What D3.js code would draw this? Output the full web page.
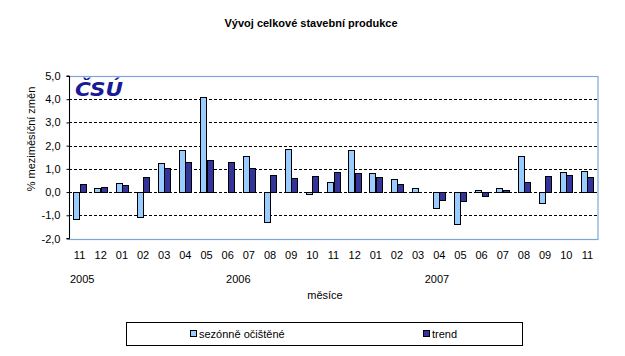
<!DOCTYPE html>
<html>
<head>
<meta charset="utf-8">
<script src="https://cdn.jsdelivr.net/npm/d3@7"></script>
<style>
  body { margin: 0; background: #fff; }
  svg { display: block; font-family: "Liberation Sans", Arial, sans-serif; }
</style>
</head>
<body>
<svg id="chart" width="625" height="356"></svg>
<script>
const months = ["11","12","01","02","03","04","05","06","07","08","09","10","11","12","01","02","03","04","05","06","07","08","09","10","11"];
const seasonal = [-1.18, 0.17, 0.39, -1.09, 1.25, 1.81, 4.09, 0.0, 1.55, -1.31, 1.85, -0.10, 0.43, 1.81, 0.82, 0.56, 0.17, -0.70, -1.39, 0.09, 0.17, 1.55, -0.49, 0.86, 0.91];
const trend = [0.34, 0.22, 0.30, 0.65, 1.03, 1.29, 1.38, 1.29, 1.03, 0.73, 0.60, 0.69, 0.86, 0.82, 0.65, 0.34, 0.0, -0.36, -0.40, -0.19, 0.09, 0.43, 0.69, 0.73, 0.65];
const seriesNames = ["sezónně očištěné", "trend"];
const seriesColors = ["#99ccff", "#333399"];
const yTicks = [5, 4, 3, 2, 1, 0, -1, -2];
const years = ["2005", "2006", "2007"];

const svg = d3.select("#chart");
const L = 69, R = 598, T = 76, B = 238.5;

const x = d3.scaleBand().domain(d3.range(months.length)).range([L, R]).paddingInner(0.4).paddingOuter(0.2);
const x1 = d3.scaleBand().domain([0, 1]).range([0, x.bandwidth()]);
const y = d3.scaleLinear().domain([-2, 5]).range([B, T]);

// title
svg.append("text").attr("x", 311).attr("y", 27).attr("text-anchor", "middle")
  .attr("font-size", 11).attr("font-weight", "bold").text("Vývoj celkové stavební produkce");

// gridlines
svg.append("g").selectAll("line").data(yTicks.filter(v => v > -2 && v < 5)).join("line")
  .attr("x1", L).attr("x2", R).attr("y1", d => Math.round(y(d)) + 0.5).attr("y2", d => Math.round(y(d)) + 0.5)
  .attr("stroke", "#000").attr("stroke-width", 1).attr("stroke-dasharray", "3,2");

// plot border
svg.append("rect").attr("x", L + 0.5).attr("y", Math.round(T) + 0.5).attr("width", R - L - 0.5).attr("height", Math.round(B) - Math.round(T))
  .attr("fill", "none").attr("stroke", "#7ba7de").attr("stroke-width", 1.2);

// logo
svg.append("text").attr("x", 75).attr("y", 96).attr("font-size", 19).attr("font-weight", "bold")
  .attr("font-style", "italic").attr("fill", "#1a1a96").attr("textLength", 48).attr("lengthAdjust", "spacingAndGlyphs")
  .attr("font-family", "'DejaVu Sans', sans-serif").text("ČSÚ");

// bars
const allSeries = [seasonal, trend];
allSeries.forEach((vals, si) => {
  svg.append("g").selectAll("rect").data(vals).join("rect")
    .attr("x", (d, i) => Math.round(x(i) + x1(si)) + 0.5)
    .attr("width", Math.round(x1.bandwidth()))
    .attr("y", d => Math.round(y(Math.max(0, d))) + 0.5)
    .attr("height", d => Math.abs(Math.round(y(d)) - Math.round(y(0))))
    .attr("fill", seriesColors[si])
    .attr("stroke", d => d === 0 ? "none" : "#000").attr("stroke-width", 1);
});

// y axis
const yAxis = d3.axisLeft(y).tickValues(yTicks).tickSize(3).tickPadding(6)
  .tickFormat(d => d3.format(".1f")(d).replace(".", ",").replace("−", "-"));
const ga = svg.append("g").attr("transform", `translate(${L + 0.5},0)`).call(yAxis);
ga.select(".domain").attr("d", `M-3,${y(5)}H0V${y(-2)}H-3`).attr("stroke", "#000");
ga.selectAll(".tick text").attr("font-size", 11).attr("font-family", "'Liberation Sans', Arial, sans-serif").attr("fill", "#000");
ga.selectAll(".tick line").attr("stroke", "#000");

// y title
svg.append("text").attr("transform", "translate(35,139) rotate(-90)").attr("text-anchor", "middle")
  .attr("font-size", 11).text("% meziměsíční změn");

// category labels
svg.append("g").selectAll("text").data(months).join("text")
  .attr("x", (d, i) => x(i) + x.bandwidth() / 2).attr("y", 259).attr("text-anchor", "middle")
  .attr("font-size", 11).text(d => d);

// year labels
const yearPos = [{a: "start", xp: 70}, {a: "middle", xp: (x(7) + x(8) + x.bandwidth()) / 2}, {a: "middle", xp: 437}];
svg.append("g").selectAll("text").data(years).join("text")
  .attr("x", (d, i) => yearPos[i].xp).attr("y", 283).attr("text-anchor", (d, i) => yearPos[i].a)
  .attr("font-size", 11).text(d => d);

svg.append("text").attr("x", 325).attr("y", 299).attr("text-anchor", "middle").attr("font-size", 11).text("měsíce");

// legend
svg.append("rect").attr("x", 126.5).attr("y", 322.5).attr("width", 396).attr("height", 23)
  .attr("fill", "#fff").attr("stroke", "#000").attr("stroke-width", 1);
const legX = [190, 423];
seriesNames.forEach((n, i) => {
  svg.append("rect").attr("x", legX[i] + 0.5).attr("y", 330.5).attr("width", 6).attr("height", 6)
    .attr("fill", seriesColors[i]).attr("stroke", "#000").attr("stroke-width", 1);
  svg.append("text").attr("x", legX[i] + 9).attr("y", 338).attr("font-size", 11).text(n);
});
</script>
</body>
</html>
